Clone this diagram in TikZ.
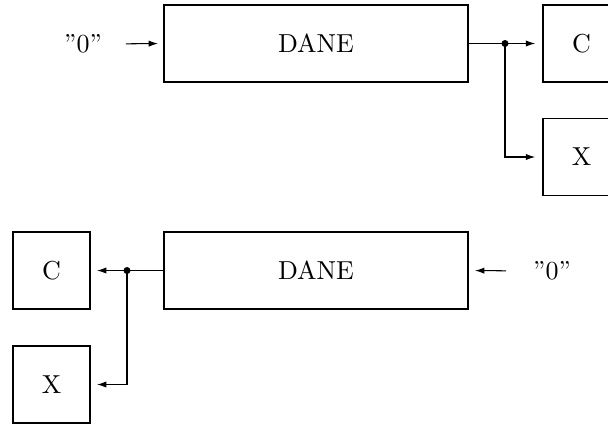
\documentclass[tikz,border=0pt]{standalone}
\usetikzlibrary{arrows.meta}
\begin{document}
\begin{tikzpicture}[x=0.3846pt,y=-0.3846pt,
  block/.style={draw,line width=0.4pt,minimum width={304*0.3846pt},minimum height={77*0.3846pt},inner sep=0pt,outer sep=0pt},
  outbox/.style={draw,line width=0.4pt,minimum width={77*0.3846pt},minimum height={77*0.3846pt},inner sep=0pt,outer sep=0pt},
  label/.style={inner sep=0pt,outer sep=0pt},
  conn/.style={line width=0.4pt},
  arr/.style={conn,-{Latex[length=3.6pt,width=2.4pt]}},
  junction/.style={circle,fill,inner sep=0pt,minimum size=2.7pt}]
\useasboundingbox (0,0) rectangle (608,423);
\clip (0,0) rectangle (608,423);

% upper register: shifted out to the right
\node[block] (dane1) at (316,43.5) {DANE};
\node[label] (zero1) at (83,44) {\textquotedblright0\textquotedblright};
\node[outbox] (c1) at (581.5,43.5) {C};
\node[outbox] (x1) at (581.5,157) {X};
\node[junction] (j1) at (505,43.5) {};
\coordinate (k1) at (505,157);
\draw[arr,shorten <=9.3pt,shorten >=2.3pt] (zero1.east) -- (dane1.west);
\draw[conn] (dane1.east) -- (j1.center);
\draw[arr,shorten >=3pt] (j1.center) -- (c1.west);
\draw[arr,shorten >=3pt] (j1.center) -- (k1) -- (x1.west);

% lower register: shifted out to the left
\node[block] (dane2) at (316,270.5) {DANE};
\node[label] (zero2) at (552,271) {\textquotedblright0\textquotedblright};
\node[outbox] (c2) at (51.5,270.5) {C};
\node[outbox] (x2) at (51.5,384.5) {X};
\node[junction] (j2) at (127,270.5) {};
\coordinate (k2) at (127,384.5);
\draw[arr,shorten <=10.4pt,shorten >=2.7pt] (zero2.west) -- (dane2.east);
\draw[conn] (dane2.west) -- (j2.center);
\draw[arr,shorten >=2.7pt] (j2.center) -- (c2.east);
\draw[arr,shorten >=2.7pt] (j2.center) -- (k2) -- (x2.east);
\end{tikzpicture}
\end{document}
